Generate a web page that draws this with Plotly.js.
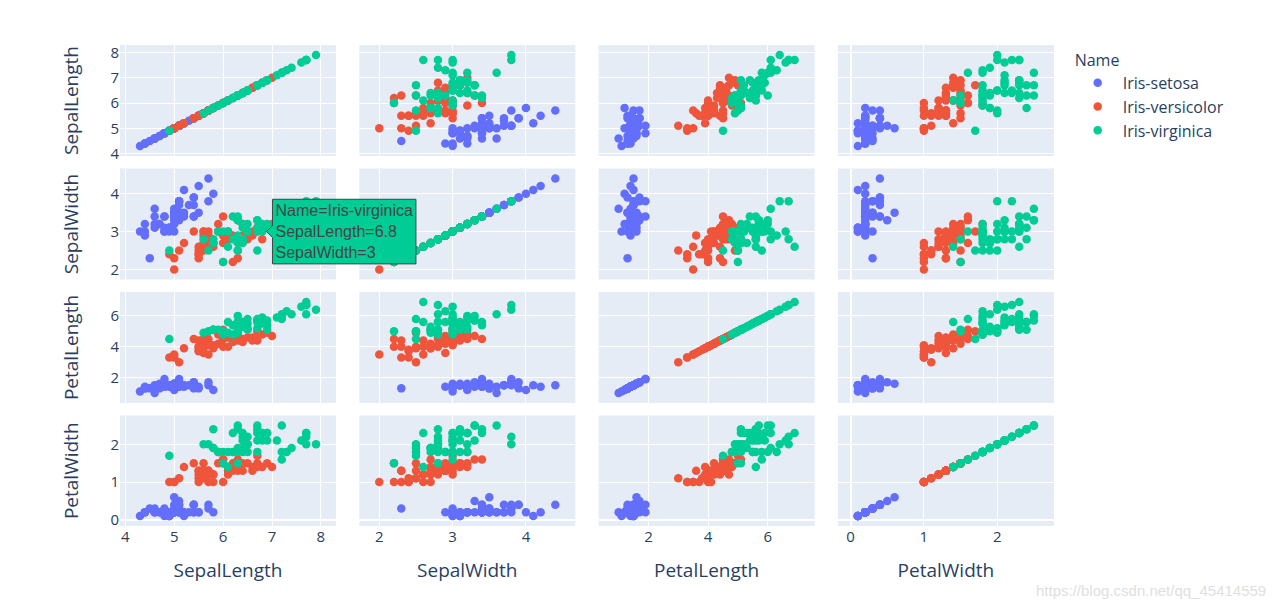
<!DOCTYPE html>
<html><head><meta charset="utf-8">
<script src="https://cdn.plot.ly/plotly-3.0.1.min.js"></script>
<style>html,body{margin:0;padding:0;background:#fff}#chart{width:1277px;height:609px}</style>
</head><body><div id="chart"></div>
<script>
const dimensions = ["SepalLength","SepalWidth","PetalLength","PetalWidth"];
const species = ["Iris-setosa","Iris-versicolor","Iris-virginica"];
const speciesColors = ["#636efa","#EF553B","#00cc96"];
const speciesCount = [50,50,50];
const sepalLength = [5.1,4.9,4.7,4.6,5.0,5.4,4.6,5.0,4.4,4.9,5.4,4.8,4.8,4.3,5.8,5.7,5.4,5.1,5.7,5.1,5.4,5.1,4.6,5.1,4.8,5.0,5.0,5.2,5.2,4.7,4.8,5.4,5.2,5.5,4.9,5.0,5.5,4.9,4.4,5.1,5.0,4.5,4.4,5.0,5.1,4.8,5.1,4.6,5.3,5.0,
7.0,6.4,6.9,5.5,6.5,5.7,6.3,4.9,6.6,5.2,5.0,5.9,6.0,6.1,5.6,6.7,5.6,5.8,6.2,5.6,5.9,6.1,6.3,6.1,6.4,6.6,6.8,6.7,6.0,5.7,5.5,5.5,5.8,6.0,5.4,6.0,6.7,6.3,5.6,5.5,5.5,6.1,5.8,5.0,5.6,5.7,5.7,6.2,5.1,5.7,
6.3,5.8,7.1,6.3,6.5,7.6,4.9,7.3,6.7,7.2,6.5,6.4,6.8,5.7,5.8,6.4,6.5,7.7,7.7,6.0,6.9,5.6,7.7,6.3,6.7,7.2,6.2,6.1,6.4,7.2,7.4,7.9,6.4,6.3,6.1,7.7,6.3,6.4,6.0,6.9,6.7,6.9,5.8,6.8,6.7,6.7,6.3,6.5,6.2,5.9];
const sepalWidth = [3.5,3.0,3.2,3.1,3.6,3.9,3.4,3.4,2.9,3.1,3.7,3.4,3.0,3.0,4.0,4.4,3.9,3.5,3.8,3.8,3.4,3.7,3.6,3.3,3.4,3.0,3.4,3.5,3.4,3.2,3.1,3.4,4.1,4.2,3.1,3.2,3.5,3.1,3.0,3.4,3.5,2.3,3.2,3.5,3.8,3.0,3.8,3.2,3.7,3.3,
3.2,3.2,3.1,2.3,2.8,2.8,3.3,2.4,2.9,2.7,2.0,3.0,2.2,2.9,2.9,3.1,3.0,2.7,2.2,2.5,3.2,2.8,2.5,2.8,2.9,3.0,2.8,3.0,2.9,2.6,2.4,2.4,2.7,2.7,3.0,3.4,3.1,2.3,3.0,2.5,2.6,3.0,2.6,2.3,2.7,3.0,2.9,2.9,2.5,2.8,
3.3,2.7,3.0,2.9,3.0,3.0,2.5,2.9,2.5,3.6,3.2,2.7,3.0,2.5,2.8,3.2,3.0,3.8,2.6,2.2,3.2,2.8,2.8,2.7,3.3,3.2,2.8,3.0,2.8,3.0,2.8,3.8,2.8,2.8,2.6,3.0,3.4,3.1,3.0,3.1,3.1,3.1,2.7,3.2,3.3,3.0,2.5,3.0,3.4,3.0];
const petalLength = [1.4,1.4,1.3,1.5,1.4,1.7,1.4,1.5,1.4,1.5,1.5,1.6,1.4,1.1,1.2,1.5,1.3,1.4,1.7,1.5,1.7,1.5,1.0,1.7,1.9,1.6,1.6,1.5,1.4,1.6,1.6,1.5,1.5,1.4,1.5,1.2,1.3,1.5,1.3,1.5,1.3,1.3,1.3,1.6,1.9,1.4,1.6,1.4,1.5,1.4,
4.7,4.5,4.9,4.0,4.6,4.5,4.7,3.3,4.6,3.9,3.5,4.2,4.0,4.7,3.6,4.4,4.5,4.1,4.5,3.9,4.8,4.0,4.9,4.7,4.3,4.4,4.8,5.0,4.5,3.5,3.8,3.7,3.9,5.1,4.5,4.5,4.7,4.4,4.1,4.0,4.4,4.6,4.0,3.3,4.2,4.2,4.2,4.3,3.0,4.1,
6.0,5.1,5.9,5.6,5.8,6.6,4.5,6.3,5.8,6.1,5.1,5.3,5.5,5.0,5.1,5.3,5.5,6.7,6.9,5.0,5.7,4.9,6.7,4.9,5.7,6.0,4.8,4.9,5.6,5.8,6.1,6.4,5.6,5.1,5.6,6.1,5.6,5.5,4.8,5.4,5.6,5.1,5.1,5.9,5.7,5.2,5.0,5.2,5.4,5.1];
const petalWidth = [0.2,0.2,0.2,0.2,0.2,0.4,0.3,0.2,0.2,0.1,0.2,0.2,0.1,0.1,0.2,0.4,0.4,0.3,0.3,0.3,0.2,0.4,0.2,0.5,0.2,0.2,0.4,0.2,0.2,0.2,0.2,0.4,0.1,0.2,0.1,0.2,0.2,0.1,0.2,0.2,0.3,0.3,0.2,0.6,0.4,0.3,0.2,0.2,0.2,0.2,
1.4,1.5,1.5,1.3,1.5,1.3,1.6,1.0,1.3,1.4,1.0,1.5,1.0,1.4,1.3,1.4,1.5,1.0,1.5,1.1,1.8,1.3,1.5,1.2,1.3,1.4,1.4,1.7,1.5,1.0,1.1,1.0,1.2,1.6,1.5,1.6,1.5,1.3,1.3,1.3,1.2,1.4,1.2,1.0,1.3,1.2,1.3,1.3,1.1,1.3,
2.5,1.9,2.1,1.8,2.2,2.1,1.7,1.8,1.8,2.5,2.0,1.9,2.1,2.0,2.4,2.3,1.8,2.2,2.3,1.5,2.3,2.0,2.0,1.8,2.1,1.8,1.8,1.8,2.1,1.6,1.9,2.0,2.2,1.5,1.4,2.3,2.4,1.8,1.8,2.1,2.4,2.3,1.9,2.3,2.5,2.3,1.9,2.0,2.3,1.8];
const dtickByDim = [1, 1, 2, 1];

const columns = [sepalLength, sepalWidth, petalLength, petalWidth];
const textColor = "#2a3f5f";
const traces = [];
const ML = 120, MR = 223, MT = 45, MB = 83;
const W = 1277 - ML - MR, H = 609 - MT - MB;
const colStep = 239.3, colW = 216, rowStep = 123.5, rowH = 111;
const padX = 20, padY = 10;

function paddedRange(arr, lenPx, padPx){
  const lo = Math.min.apply(null, arr), hi = Math.max.apply(null, arr);
  const s = hi - lo, p = padPx * s / (lenPx - 2*padPx);
  return [lo - p, hi + p];
}

const layout = {
  width:1277, height:609,
  paper_bgcolor:"#fff", plot_bgcolor:"#E5ECF6",
  margin:{l:ML, r:MR, t:MT, b:MB},
  font:{family:"Open Sans, Arial, sans-serif", color:textColor, size:15},
  hovermode:"closest",
  hoverlabel:{font:{family:"Arial, Liberation Sans, sans-serif", size:16}},
  showlegend:true,
  legend:{x:1.02, y:1, xanchor:"left", yanchor:"top", font:{size:16, color:textColor},
          title:{text:"Name", font:{size:16, color:textColor}}, tracegroupgap:0, itemwidth:40},
  annotations:[]
};
let starts = [], acc = 0;
for (let k=0;k<species.length;k++){ starts.push(acc); acc += speciesCount[k]; }

for (let r=0;r<4;r++){
  for (let c=0;c<4;c++){
    const n = r*4 + c + 1;
    const xs = n===1 ? "x" : "x"+n, ys = n===1 ? "y" : "y"+n;
    for (let k=0;k<species.length;k++){
      const a = starts[k], b = a + speciesCount[k];
      traces.push({
        type:"scatter", mode:"markers",
        x: columns[c].slice(a,b), y: columns[r].slice(a,b),
        xaxis: xs, yaxis: ys,
        name: species[k], legendgroup: species[k], showlegend: n===1,
        marker:{color:speciesColors[k], size:8.5},
        hovertemplate: "Name="+species[k]+"<br>"+dimensions[c]+"=%{x}<br>"+dimensions[r]+"=%{y}<extra></extra>"
      });
    }
    const xa = {
      domain:[(c*colStep)/W, Math.min(1,(c*colStep+colW)/W)],
      range: paddedRange(columns[c], colW, padX),
      anchor: ys, gridcolor:"#fff", zerolinecolor:"#fff", zerolinewidth:2,
      showticklabels: r===3, dtick: dtickByDim[c], tick0:0,
      tickfont:{size:15, color:textColor}, ticks:""
    };
    if (r===3) xa.title = {text:dimensions[c], font:{size:19, color:textColor}, standoff:18};
    const ya = {
      domain:[Math.max(0,1-(r*rowStep+rowH)/H), 1-(r*rowStep)/H],
      range: paddedRange(columns[r], rowH, padY),
      anchor: xs, gridcolor:"#fff", zerolinecolor:"#fff", zerolinewidth:2,
      showticklabels: c===0, dtick: dtickByDim[r], tick0:0,
      tickfont:{size:15, color:textColor}, ticks:""
    };
    if (c===0) ya.title = {text:dimensions[r], font:{size:19, color:textColor}, standoff:26};
    layout[n===1 ? "xaxis" : "xaxis"+n] = xa;
    layout[n===1 ? "yaxis" : "yaxis"+n] = ya;
  }
}
layout.annotations.push({
  text:"https://blog.csdn.net/qq_45414559", xref:"paper", yref:"paper",
  x:(1268-ML)/W, y:(609-MB-590)/H, xanchor:"right", yanchor:"middle", showarrow:false,
  font:{size:15, color:"#e0e0e0", family:"Arial, Liberation Sans, sans-serif"}
});

const gd = document.getElementById("chart");
Plotly.newPlot(gd, traces, layout, {displayModeBar:false, responsive:false}).then(function(){
  // hover label for the virginica point (6.8, 3.0) in the SepalLength x SepalWidth panel
  const tIdx = (1*4 + 0)*3 + 2;
  let ok = false;
  try {
    if (Plotly.Fx && Plotly.Fx.hover) { Plotly.Fx.hover(gd, [{curveNumber:tIdx, pointNumber:12}], "x5y5"); ok = true; }
  } catch(e) { ok = false; }
  if (!ok || !gd.querySelector(".hoverlayer .hovertext")) {
    const fl = gd._fullLayout, xa = fl.xaxis5, ya = fl.yaxis5;
    const px = xa._offset + xa.l2p(6.8), py = ya._offset + ya.l2p(3.0);
    const drag = gd.querySelector('.nsewdrag[data-subplot="x5y5"]');
    const rect = gd.getBoundingClientRect();
    if (drag) drag.dispatchEvent(new MouseEvent("mousemove", {clientX: rect.left+px, clientY: rect.top+py, bubbles:true}));
  }
});
</script></body></html>
